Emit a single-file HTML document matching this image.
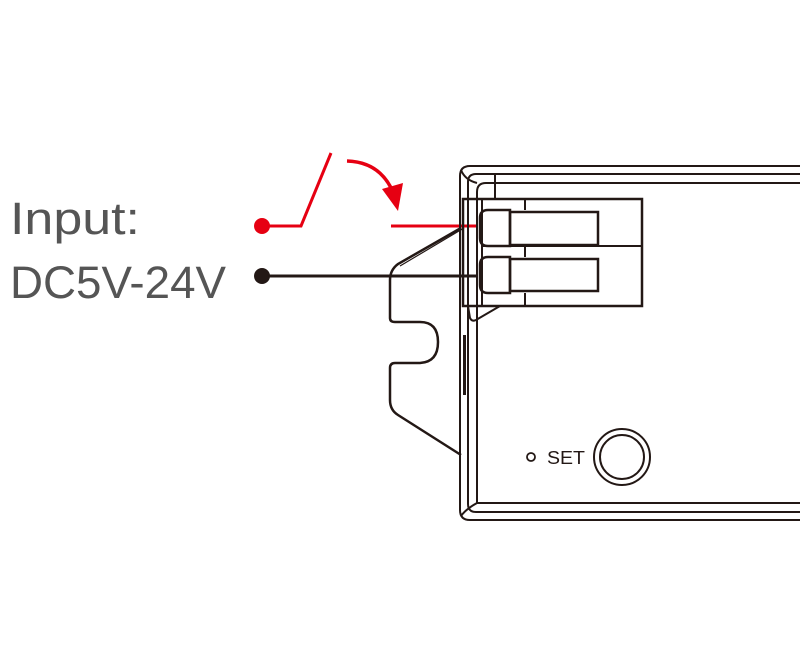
<!DOCTYPE html>
<html><head><meta charset="utf-8"><style>
html,body{margin:0;padding:0;background:#fff;width:800px;height:660px;overflow:hidden}
svg{display:block}
</style></head><body>
<svg width="800" height="660" viewBox="0 0 800 660" xmlns="http://www.w3.org/2000/svg">
<text x="10" y="234" font-family="Liberation Sans, sans-serif" font-size="45" fill="#555" textLength="130" lengthAdjust="spacingAndGlyphs">Input:</text>
<text x="10" y="298" font-family="Liberation Sans, sans-serif" font-size="45" fill="#555" textLength="216" lengthAdjust="spacingAndGlyphs">DC5V-24V</text>
<!-- red switch -->
<circle cx="262" cy="226" r="8" fill="#e60012"/>
<polyline points="262,226 301,226 331,153" fill="none" stroke="#e60012" stroke-width="3"/>
<path d="M347,161 Q380,162 393,192" fill="none" stroke="#e60012" stroke-width="3.5"/>
<polygon points="382,189 403,183 398,211" fill="#e60012"/>
<line x1="391" y1="226" x2="478" y2="226" stroke="#e60012" stroke-width="3"/>
<circle cx="262" cy="276" r="8" fill="#231815"/>
<line x1="262" y1="276" x2="478" y2="276" stroke="#231815" stroke-width="3"/>
<g fill="none" stroke="#231815" stroke-width="2">
<!-- housing -->
<path d="M800,166 L470,166 Q460,166 460,176 L460,510 Q460,520 470,520 L800,520"/>
<path d="M800,174 L476,174 Q468,174 468,182 L468,504 Q468,512 476,512 L800,512"/>
<path d="M800,183 L486,183 Q477,183 477,192 L477,503 L800,503"/>
<path d="M461,170 Q465,180 477,183 M461,516 Q466,509 477,503"/>
<line x1="495" y1="174" x2="495" y2="199"/>
<!-- terminal block -->
<rect x="463" y="199" width="179" height="107" stroke-width="2.5"/>
<line x1="482" y1="199" x2="482" y2="306"/>
<line x1="482" y1="246" x2="642" y2="246"/>
<line x1="525" y1="199" x2="525" y2="210"/>
<line x1="525" y1="246" x2="525" y2="257"/>
<line x1="525" y1="293" x2="525" y2="306"/>
<path d="M510,210 L488,210 Q480,210 480,218 L480,238 Q480,246 488,246 L510,246 Z" stroke-width="2.5"/>
<rect x="510" y="212" width="88" height="33" stroke-width="2.5"/>
<path d="M510,257 L488,257 Q480,257 480,265 L480,285 Q480,293 488,293 L510,293 Z" stroke-width="2.5"/>
<rect x="510" y="259" width="88" height="32" stroke-width="2.5"/>
<!-- clip -->
<path d="M468,306 L470,318 Q472,322 476,320 L500,306"/>
<!-- bracket -->
<path d="M461,228 L398,264 Q390,270 390,280 L390,318 Q390,322 395,322 L420,322 Q438,322 438,342 Q438,362 420,363 L395,363 Q390,363 390,368 L390,400 Q390,410 398,415 L461,455" stroke-width="2.5"/>
<path d="M464,228 L400,266" stroke-width="1.2"/>
<rect x="463" y="335" width="3" height="60" fill="#231815" stroke="none"/>
<!-- SET -->
<circle cx="531" cy="457" r="4" stroke-width="1.8"/>
<circle cx="622" cy="457" r="28" stroke-width="2"/>
<circle cx="622" cy="457" r="22" stroke-width="2"/>
</g>
<text x="547" y="464" font-family="Liberation Sans, sans-serif" font-size="18" fill="#231815" textLength="38" lengthAdjust="spacingAndGlyphs">SET</text>
</svg>
</body></html>
